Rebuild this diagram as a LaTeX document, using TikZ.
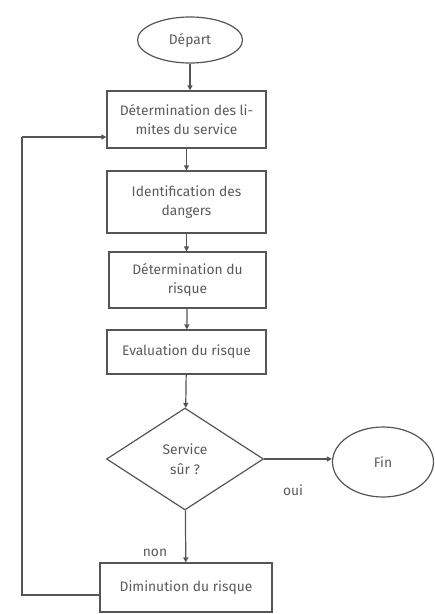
\documentclass[tikz,border=0pt]{standalone}
\usepackage{fontspec}
\setmainfont{Fira Sans}
\usetikzlibrary{shapes.geometric,arrows.meta}
\definecolor{ln}{HTML}{555555}
\definecolor{tx}{HTML}{5A5A5A}
\begin{document}
\begin{tikzpicture}[x=1pt,y=-1pt,
  every node/.style={text=tx,font=\fontsize{13.8}{19.5}\selectfont},
  box/.style={draw=ln,line width=1.2pt,rectangle,inner sep=0pt,align=center},
  oval/.style={draw=ln,line width=1.2pt,ellipse,inner sep=0pt},
  decide/.style={draw=ln,line width=1.2pt,diamond,inner sep=0pt,align=center},
  conn/.style={draw=ln,line width=1.2pt,-{Triangle[length=5pt,width=5pt]}},
  plain/.style={draw=ln,line width=1.2pt}]
\useasboundingbox (0,0) rectangle (435,614);
\node[oval,minimum width=105,minimum height=46] (dep) at (190,40) {Départ};
\node[box,minimum width=159,minimum height=57] (b1) at (186.5,119.5) {Détermination des li-\\mites du service};
\node[box,minimum width=159,minimum height=62] (b2) at (186.5,202) {Identification des\\dangers};
\node[box,minimum width=157,minimum height=56] (b3) at (187.5,280) {Détermination du\\risque};
\node[box,minimum width=159,minimum height=44] (b4) at (186.5,352) {Evaluation du risque};
\node[decide,minimum width=157,minimum height=102] (d) at (185,459) {Service\\sûr ?};
\node[oval,minimum width=101,minimum height=70] (fin) at (383,462) {Fin};
\node[box,minimum width=172,minimum height=49] (b5) at (186,587.5) {Diminution du risque};
\node (oui) at (293,490) {oui};
\node (non) at (155,553) {non};
\coordinate (c1) at (22,595);
\coordinate (c2) at (22,137);
\draw[conn] (dep.south) -- (b1.north -| dep.south);
\draw[conn] (b1) -- (b2);
\draw[conn] (b2) -- (b3.north -| b2.south);
\draw[conn] (b3) -- (b4);
\draw[conn] (b4) -- (d);
\draw[conn] (d.east) -- (d.east -| fin.west);
\draw[conn] (d) -- (b5);
\draw[plain] (b5.west |- c1) -- (c1) -- (c2);
\draw[conn] (c2) -- (c2 -| b1.west);
\end{tikzpicture}
\end{document}
